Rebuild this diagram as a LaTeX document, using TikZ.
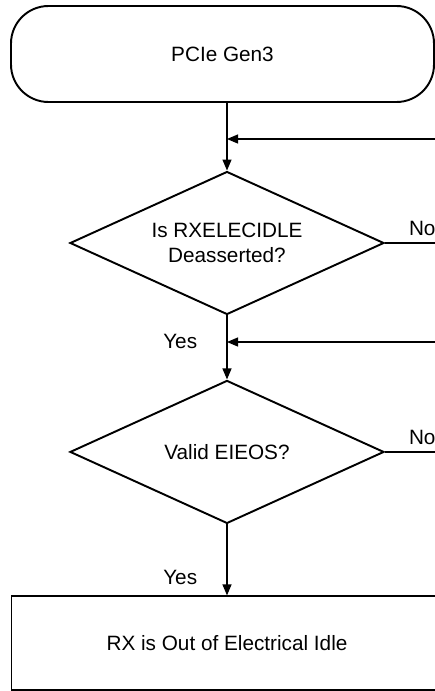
\documentclass[tikz,border=0pt]{standalone}
\usepackage{fontspec}
\setmainfont{Liberation Sans}
\usetikzlibrary{arrows.meta, positioning, shapes.geometric}
\colorlet{colLinea}{black}
\tikzset{
  cajaBase/.style={
    draw=colLinea, line width=1.1pt,
    align=center, font=\fontsize{11.8}{14}\selectfont, inner sep=2pt
  },
  cajaInicio/.style={cajaBase, rounded corners=0.75cm,
    minimum width=8.46cm, minimum height=1.92cm},
  cajaFin/.style={cajaBase, minimum width=8.62cm, minimum height=1.88cm},
  cajaDecision/.style={cajaBase, diamond, aspect=2.2, inner sep=1pt,
    minimum width=6.28cm, minimum height=2.86cm},
  flecha/.style={-{Triangle[length=2.2mm, width=1.8mm]}, line width=0.7pt, colLinea},
  linea/.style={line width=0.7pt, colLinea},
  etiqueta/.style={font=\fontsize{11.8}{14}\selectfont, inner sep=1pt},
}
\begin{document}
\begin{tikzpicture}
    \useasboundingbox (0,0) rectangle (8.7,-13.82);
    \clip (0,0) rectangle (8.7,-13.82);
    \node[cajaInicio] (inicio) at (4.45,-1.08) {PCIe Gen3};
    \node[cajaDecision] (d1) at (4.54,-4.86) {Is RXELECIDLE\\Deasserted?};
    \node[cajaDecision, below=1.28cm of d1] (d2) {Valid EIEOS?};
    \node[cajaFin, below=1.42cm of d2] (fin) {RX is Out of Electrical Idle};
    % retornos que llegan desde la derecha
    \coordinate (r1) at (8.75,-2.78);
    \coordinate (r2) at (8.75,-6.84);
    \coordinate (n1) at (d1.east -| r1);
    \coordinate (n2) at (d2.east -| r1);
    \draw[flecha] (inicio.south -| d1.north) -- (d1.north);
    \draw[flecha] (r1) -- (r1 -| d1.north);
    \draw[flecha] (d1.south) -- node[etiqueta, pos=0.4, left=0.55cm] {Yes} (d2.north);
    \draw[flecha] (r2) -- (r2 -| d2.north);
    \draw[flecha] (d2.south) -- node[etiqueta, pos=0.75, left=0.55cm] {Yes} (fin.north);
    \draw[linea] (d1.east) -- node[etiqueta, pos=0.71, above=3pt] {No} (n1);
    \draw[linea] (d2.east) -- node[etiqueta, pos=0.71, above=3pt] {No} (n2);
  \end{tikzpicture}
\end{document}
